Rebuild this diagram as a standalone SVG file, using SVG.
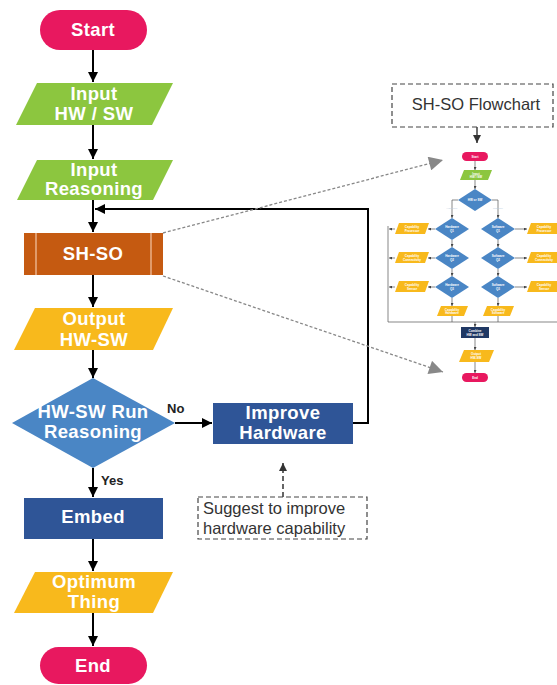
<svg xmlns="http://www.w3.org/2000/svg" width="557" height="685" viewBox="0 0 557 685">
<style>
.t{font-family:"Liberation Sans",Arial,sans-serif;font-weight:bold;fill:#fff;text-anchor:middle;font-size:18.5px;letter-spacing:0.4px}
.lbl{font-family:"Liberation Sans",Arial,sans-serif;font-weight:bold;fill:#222;font-size:13px}
.note{font-family:"Liberation Sans",Arial,sans-serif;fill:#333;font-size:16.5px}
.m{font-family:"Liberation Sans",Arial,sans-serif;font-weight:bold;fill:#fff;text-anchor:middle;font-size:3px}
.ml{font-family:"Liberation Sans",Arial,sans-serif;fill:#bcd;text-anchor:middle;font-size:2.5px}
.c{fill:none;stroke:#000;stroke-width:2}
.mc{fill:none;stroke:#555;stroke-width:0.7}
.pink{fill:#E8185F}.green{fill:#8CC63F}.amber{fill:#F8B91C}.blue{fill:#2F5597}.dia{fill:#4A86C5}.navy{fill:#1F3864}
</style>
<defs>
<marker id="a" viewBox="0 0 10 10" refX="10" refY="5" markerWidth="5" markerHeight="5" orient="auto" markerUnits="strokeWidth"><path d="M0,0 L10,5 L0,10 z" fill="#000"/></marker>
<marker id="g" viewBox="0 0 10 10" refX="10" refY="5" markerWidth="16" markerHeight="14" orient="auto" markerUnits="userSpaceOnUse"><path d="M0,0 L10,5 L0,10 z" fill="#888"/></marker>
<marker id="ma" viewBox="0 0 10 10" refX="10" refY="5" markerWidth="3" markerHeight="3" orient="auto" markerUnits="userSpaceOnUse"><path d="M0,0 L10,5 L0,10 z" fill="#444"/></marker>
<marker id="d" viewBox="0 0 10 10" refX="10" refY="5" markerWidth="8" markerHeight="8" orient="auto" markerUnits="userSpaceOnUse"><path d="M0,0 L10,5 L0,10 z" fill="#333"/></marker>
</defs>

<g id="connectors">
<line class="c" x1="93" y1="50" x2="93" y2="82" marker-end="url(#a)"/>
<line class="c" x1="93" y1="125" x2="93" y2="159" marker-end="url(#a)"/>
<line class="c" x1="93" y1="200" x2="93" y2="232" marker-end="url(#a)"/>
<line class="c" x1="93" y1="275" x2="93" y2="307" marker-end="url(#a)"/>
<line class="c" x1="93" y1="350" x2="93" y2="378" marker-end="url(#a)"/>
<line class="c" x1="93" y1="468" x2="93" y2="497" marker-end="url(#a)"/>
<line class="c" x1="93" y1="539" x2="93" y2="571" marker-end="url(#a)"/>
<line class="c" x1="93" y1="613" x2="93" y2="646" marker-end="url(#a)"/>
<line class="c" x1="175" y1="423" x2="212" y2="423" marker-end="url(#a)"/>
<polyline class="c" points="353,423 368,423 368,209 95,209" marker-end="url(#a)"/>
<line x1="163" y1="233" x2="443" y2="160" stroke="#888" stroke-width="1.3" stroke-dasharray="3 2" marker-end="url(#g)"/>
<line x1="163" y1="276" x2="443" y2="372" stroke="#888" stroke-width="1.3" stroke-dasharray="3 2" marker-end="url(#g)"/>
<line x1="283" y1="497" x2="283" y2="463" stroke="#333" stroke-width="1.5" stroke-dasharray="5 3" marker-end="url(#d)"/>
<line x1="477" y1="127" x2="477" y2="143" stroke="#222" stroke-width="1.3" marker-end="url(#d)"/>
<text class="lbl" x="167" y="413">No</text>
<text class="lbl" x="101" y="485">Yes</text>
</g>

<g id="start"><rect class="pink" x="40" y="10" width="107" height="40" rx="20"/><text class="t" x="93" y="36">Start</text></g>
<g id="input-hwsw"><polygon class="green" points="37,83 173,83 152,125 16,125"/><text class="t" x="94" y="100">Input</text><text class="t" x="94" y="120">HW / SW</text></g>
<g id="input-reasoning"><polygon class="green" points="37,160 173,160 153,200 17,200"/><text class="t" x="94" y="176">Input</text><text class="t" x="94" y="195">Reasoning</text></g>
<g id="shso"><rect x="24" y="233" width="139" height="42" fill="#C55A11"/><line x1="36" y1="233" x2="36" y2="275" stroke="#F4C7A8" stroke-width="1.2"/><line x1="151" y1="233" x2="151" y2="275" stroke="#F4C7A8" stroke-width="1.2"/><text class="t" x="93" y="260">SH-SO</text></g>
<g id="output-hwsw"><polygon class="amber" points="35,308 173,308 153,350 14,350"/><text class="t" x="94" y="325">Output</text><text class="t" x="94" y="346">HW-SW</text></g>
<g id="decision"><polygon class="dia" points="93,378 175,423 93,468 12,423"/><text class="t" x="93" y="418">HW-SW Run</text><text class="t" x="93" y="438">Reasoning</text></g>
<g id="improve"><rect class="blue" x="213" y="403" width="140" height="41"/><text class="t" x="283" y="419">Improve</text><text class="t" x="283" y="439">Hardware</text></g>
<g id="embed"><rect class="blue" x="24" y="498" width="139" height="41"/><text class="t" x="93" y="523">Embed</text></g>
<g id="optimum"><polygon class="amber" points="35,572 173,572 153,613 14,613"/><text class="t" x="94" y="588">Optimum</text><text class="t" x="94" y="608">Thing</text></g>
<g id="end"><rect class="pink" x="40" y="647" width="107" height="37" rx="18.5"/><text class="t" x="93" y="672">End</text></g>

<g id="note"><rect x="198" y="497" width="169" height="42" fill="none" stroke="#444" stroke-width="1.2" stroke-dasharray="5 3"/><text class="note" x="203" y="514">Suggest to improve</text><text class="note" x="203" y="534">hardware capability</text></g>
<g id="shso-flowchart-label"><rect x="392" y="84" width="161" height="43" fill="none" stroke="#444" stroke-width="1.2" stroke-dasharray="5 3"/><text class="note" x="476" y="110" text-anchor="middle">SH-SO Flowchart</text></g>

<g id="mini-flowchart">
<g class="mc">
<line x1="475" y1="161" x2="475" y2="170" marker-end="url(#ma)"/>
<line x1="475" y1="180" x2="475" y2="189" marker-end="url(#ma)"/>
<polyline points="458,200 452,200 452,218" marker-end="url(#ma)"/>
<polyline points="492,200 498,200 498,218" marker-end="url(#ma)"/>
<line x1="452" y1="240" x2="452" y2="247" marker-end="url(#ma)"/>
<line x1="498" y1="240" x2="498" y2="247" marker-end="url(#ma)"/>
<line x1="452" y1="269" x2="452" y2="276" marker-end="url(#ma)"/>
<line x1="498" y1="269" x2="498" y2="276" marker-end="url(#ma)"/>
<line x1="452" y1="298" x2="452" y2="306" marker-end="url(#ma)"/>
<line x1="498" y1="298" x2="498" y2="306" marker-end="url(#ma)"/>
<line x1="435" y1="229" x2="428" y2="229" marker-end="url(#ma)"/>
<line x1="435" y1="258" x2="428" y2="258" marker-end="url(#ma)"/>
<line x1="435" y1="287" x2="428" y2="287" marker-end="url(#ma)"/>
<line x1="515" y1="229" x2="527" y2="229" marker-end="url(#ma)"/>
<line x1="515" y1="258" x2="527" y2="258" marker-end="url(#ma)"/>
<line x1="515" y1="287" x2="527" y2="287" marker-end="url(#ma)"/>
<line x1="395" y1="229" x2="389" y2="229" marker-end="url(#ma)"/>
<line x1="395" y1="258" x2="389" y2="258" marker-end="url(#ma)"/>
<line x1="395" y1="287" x2="389" y2="287" marker-end="url(#ma)"/>
<polyline points="388,226 388,322 557,322"/>
<line x1="452" y1="316" x2="452" y2="322"/>
<line x1="498" y1="316" x2="498" y2="322"/>
<line x1="475" y1="322" x2="475" y2="327" marker-end="url(#ma)"/>
<line x1="475" y1="338" x2="475" y2="350" marker-end="url(#ma)"/>
<line x1="475" y1="362" x2="475" y2="373" marker-end="url(#ma)"/>
</g>
<text class="ml" x="452" y="209">Hardware</text><text class="ml" x="498" y="209">Software</text>
<rect class="pink" x="462" y="152" width="26" height="9" rx="4.5"/><text class="m" x="475" y="157.8">Start</text>
<polygon class="green" points="464,170 492,170 488,180 460,180"/><text class="m" x="476" y="174.5">Input</text><text class="m" x="476" y="178">HW / SW</text>
<polygon class="dia" points="475,189 492,200 475,211 458,200"/><text class="m" x="475" y="201">HW or SW</text>
<polygon class="dia" points="452,218 469,229 452,240 435,229"/><text class="m" x="452" y="228">Hardware</text><text class="m" x="452" y="232">Q1</text>
<polygon class="dia" points="498,218 515,229 498,240 481,229"/><text class="m" x="498" y="228">Software</text><text class="m" x="498" y="232">Q1</text>
<polygon class="dia" points="452,247 469,258 452,269 435,258"/><text class="m" x="452" y="257">Hardware</text><text class="m" x="452" y="261">Q2</text>
<polygon class="dia" points="498,247 515,258 498,269 481,258"/><text class="m" x="498" y="257">Software</text><text class="m" x="498" y="261">Q2</text>
<polygon class="dia" points="452,276 469,287 452,298 435,287"/><text class="m" x="452" y="286">Hardware</text><text class="m" x="452" y="290">Q3</text>
<polygon class="dia" points="498,276 515,287 498,298 481,287"/><text class="m" x="498" y="286">Software</text><text class="m" x="498" y="290">Q3</text>
<polygon class="amber" points="399,223 429,223 425,234 395,234"/><text class="m" x="412" y="228">Capability</text><text class="m" x="412" y="232">Processor</text>
<polygon class="amber" points="399,252 429,252 425,263 395,263"/><text class="m" x="412" y="257">Capability</text><text class="m" x="412" y="261">Connectivity</text>
<polygon class="amber" points="399,281 429,281 425,292 395,292"/><text class="m" x="412" y="286">Capability</text><text class="m" x="412" y="290">Sensor</text>
<polygon class="amber" points="531,223 561,223 557,234 527,234"/><text class="m" x="544" y="228">Capability</text><text class="m" x="544" y="232">Processor</text>
<polygon class="amber" points="531,252 561,252 557,263 527,263"/><text class="m" x="544" y="257">Capability</text><text class="m" x="544" y="261">Connectivity</text>
<polygon class="amber" points="531,281 561,281 557,292 527,292"/><text class="m" x="544" y="286">Capability</text><text class="m" x="544" y="290">Sensor</text>
<polygon class="amber" points="441,306 468,306 464,316 437,316"/><text class="m" x="452" y="310.5">Capability</text><text class="m" x="452" y="314">Hardware</text>
<polygon class="amber" points="487,306 514,306 510,316 483,316"/><text class="m" x="498" y="310.5">Capability</text><text class="m" x="498" y="314">Software</text>
<rect class="navy" x="461" y="327" width="28" height="11"/><text class="m" x="475" y="331.5">Combine</text><text class="m" x="475" y="335.5">HW and SW</text>
<polygon class="amber" points="464,350 494,350 489,362 459,362"/><text class="m" x="476" y="355">Output</text><text class="m" x="476" y="359">HW-SW</text>
<rect class="pink" x="462" y="373" width="26" height="9" rx="4.5"/><text class="m" x="475" y="378.8">End</text>
</g>
</svg>
